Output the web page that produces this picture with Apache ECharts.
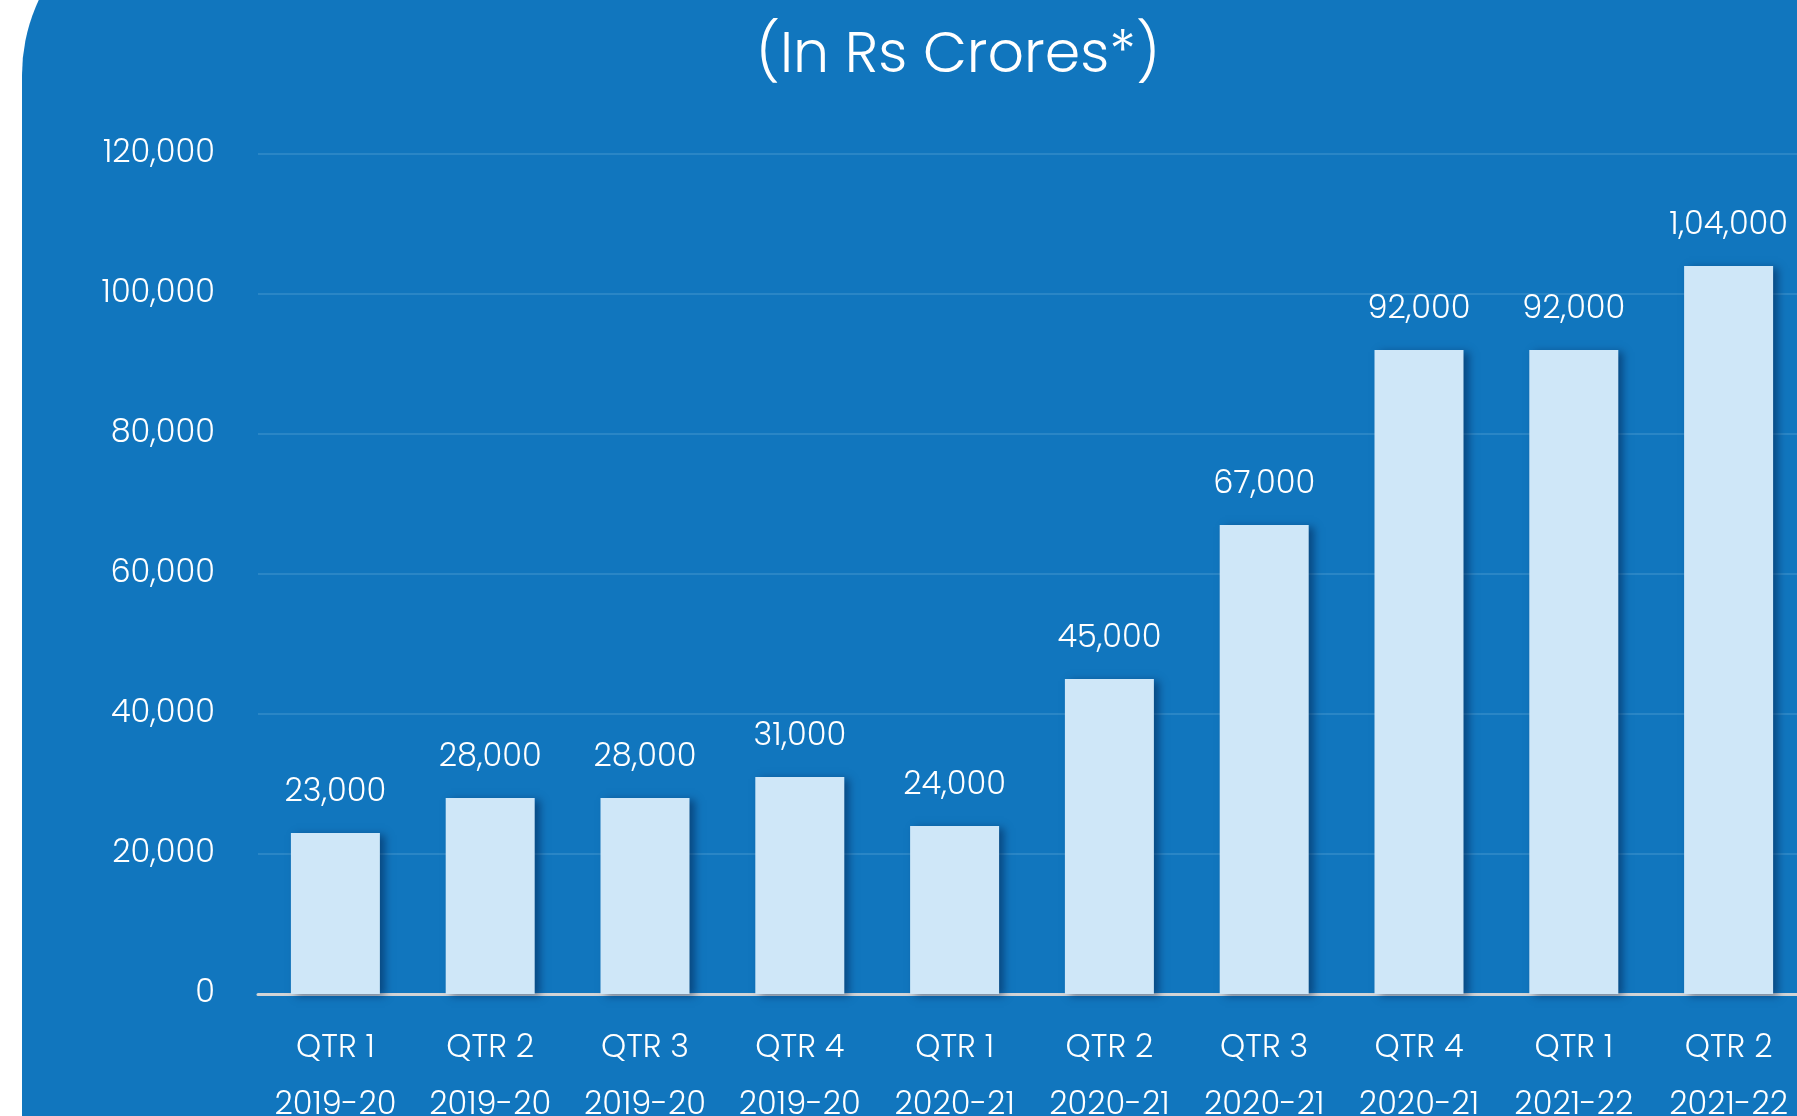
<!DOCTYPE html>
<html>
<head>
<meta charset="utf-8">
<script src="https://cdn.jsdelivr.net/npm/echarts@6/dist/echarts.min.js"></script>
<style>
  html, body { margin: 0; padding: 0; background: #ffffff; }
  #chart { width: 1797px; height: 1116px; }
</style>
</head>
<body>
<div id="chart"></div>
<script>
// quarters and year labels
var quarters = ['QTR 1', 'QTR 2', 'QTR 3', 'QTR 4', 'QTR 1', 'QTR 2', 'QTR 3', 'QTR 4', 'QTR 1', 'QTR 2'];
var years = ['2019-20', '2019-20', '2019-20', '2019-20', '2020-21', '2020-21', '2020-21', '2020-21', '2021-22', '2021-22'];
var values = [23000, 28000, 28000, 31000, 24000, 45000, 67000, 92000, 92000, 104000];
var titleText = '(In Rs Crores*)';

var categories = quarters.map(function (q, i) { return q + '\n' + years[i]; });

// bar labels use indian grouping: 1,04,000
function fmtIN(v) {
    var s = String(Math.round(v));
    if (s.length <= 3) return s;
    var last3 = s.slice(-3);
    var rest = s.slice(0, -3);
    rest = rest.replace(/\B(?=(\d{2})+(?!\d))/g, ',');
    return rest + ',' + last3;
}
// axis ticks use plain grouping: 120,000
function fmtEN(v) {
    return String(Math.round(v)).replace(/\B(?=(\d{3})+(?!\d))/g, ',');
}

var fontFamily = 'Poppins, Lato, "Open Sans", sans-serif';
var chart = echarts.init(document.getElementById('chart'));

var option = {
    backgroundColor: '#ffffff',
    animation: false,
    graphic: [
        {
            type: 'rect',
            z: -10,
            shape: { x: 22, y: -101, width: 1800, height: 1250, r: [176, 0, 0, 0] },
            style: { fill: '#1176be' }
        },
        {
            type: 'text',
            x: 958,
            y: 58,
            style: {
                text: titleText,
                fill: '#ffffff',
                font: '300 57px ' + fontFamily,
                align: 'center',
                verticalAlign: 'middle'
            }
        }
    ],
    grid: { left: 258, top: 154, width: 1548, height: 840, outerBoundsMode: 'none', containLabel: false },
    xAxis: {
        type: 'category',
        data: categories,
        axisLine: { lineStyle: { color: '#d2d4d6', width: 3 } },
        axisTick: { show: false },
        axisLabel: {
            interval: 0,
            hideOverlap: false,
            color: '#ffffff',
            fontFamily: fontFamily,
            fontWeight: 300,
            fontSize: 32,
            lineHeight: 57,
            margin: 26
        }
    },
    yAxis: {
        type: 'value',
        min: 0,
        max: 120000,
        interval: 20000,
        axisLine: { show: false },
        axisTick: { show: false },
        splitLine: { lineStyle: { color: '#2a86c6', width: 2 } },
        axisLabel: {
            color: '#ffffff',
            fontFamily: fontFamily,
            fontWeight: 300,
            fontSize: 32,
            margin: 43,
            formatter: function (v) { return fmtEN(v); }
        }
    },
    series: [
        {
            type: 'bar',
            data: values,
            barWidth: 89,
            itemStyle: {
                color: '#cfe7f8',
                shadowColor: 'rgba(0, 35, 80, 0.55)',
                shadowBlur: 8,
                shadowOffsetX: 5,
                shadowOffsetY: 2
            },
            label: {
                show: true,
                position: 'top',
                distance: 24,
                color: '#ffffff',
                fontFamily: fontFamily,
                fontWeight: 300,
                fontSize: 32,
                formatter: function (p) { return fmtIN(p.value); }
            }
        }
    ]
};

chart.setOption(option);
</script>
</body>
</html>
